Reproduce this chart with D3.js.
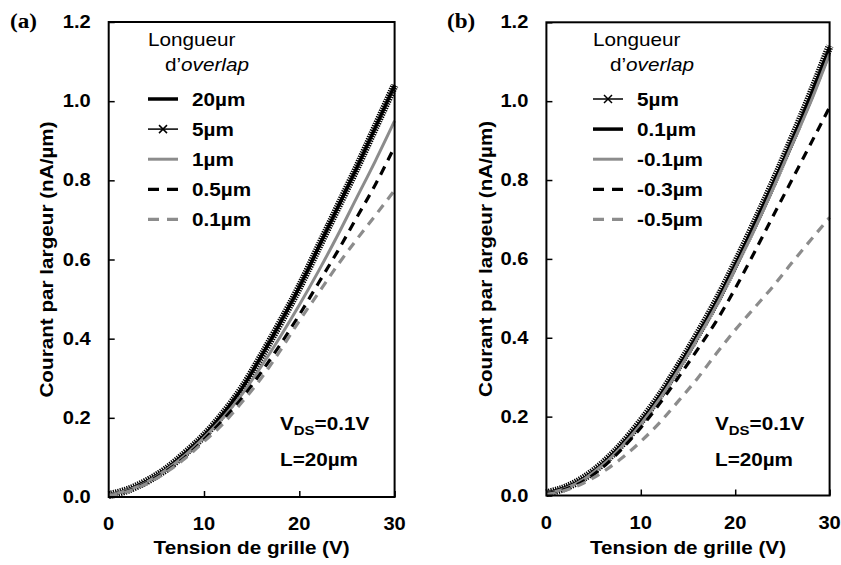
<!DOCTYPE html>
<html><head><meta charset="utf-8">
<script src="https://cdn.jsdelivr.net/npm/d3@7"></script>
<style>
body{margin:0;background:#fff;}
svg{display:block;font-family:"Liberation Sans",Arial,sans-serif;}
</style></head>
<body>
<svg id="chart" width="841" height="565"></svg>
<script>
// ---- Data ----
const gateV = [0,2,4,6,8,10,12,14,16,18,20,22,24,26,28,30];
// Panel (a)
const a_20um  = [0.005,0.018,0.040,0.070,0.110,0.155,0.210,0.275,0.355,0.440,0.530,0.630,0.730,0.830,0.935,1.040];
const a_5um   = [0.005,0.018,0.040,0.070,0.110,0.155,0.210,0.275,0.355,0.440,0.530,0.630,0.730,0.830,0.935,1.040];
const a_1um   = [0.005,0.017,0.038,0.068,0.105,0.150,0.200,0.260,0.330,0.405,0.485,0.570,0.660,0.755,0.850,0.950];
const a_05um  = [0.003,0.015,0.036,0.065,0.100,0.145,0.195,0.250,0.315,0.385,0.460,0.540,0.620,0.705,0.790,0.885];
const a_01um  = [0.003,0.014,0.034,0.062,0.097,0.140,0.185,0.240,0.300,0.370,0.445,0.515,0.585,0.650,0.712,0.775];
// Panel (b)
const b_5um   = [0.006,0.020,0.045,0.082,0.130,0.188,0.253,0.328,0.408,0.493,0.588,0.688,0.793,0.903,1.018,1.140];
const b_01um  = [0.006,0.020,0.044,0.081,0.129,0.186,0.251,0.326,0.406,0.490,0.585,0.684,0.789,0.898,1.013,1.135];
const b_m01um = [0.005,0.018,0.042,0.078,0.125,0.181,0.245,0.318,0.398,0.481,0.575,0.673,0.778,0.888,0.998,1.120];
const b_m03um = [0.004,0.016,0.037,0.072,0.118,0.172,0.233,0.300,0.370,0.442,0.525,0.615,0.708,0.800,0.892,0.985];
const b_m05um = [0.003,0.013,0.032,0.060,0.095,0.137,0.185,0.240,0.297,0.360,0.420,0.475,0.530,0.590,0.648,0.705];

const xTickVals = [0,10,20,30];
const yTickVals = [0,0.2,0.4,0.6,0.8,1.0,1.2];
const legendTitle1 = "Longueur";
const legendTitle2a = "d\u2019";
const legendTitle2b = "overlap";
const xTitle = "Tension de grille (V)";
const yTitle = "Courant par largeur (nA/\u00b5m)";

const panels = [
  { tag:"(a)", left:108.7, right:394.6, top:22, bottom:497, tagX:10, yTitleX:53, legX:148,
    series:[
      {label:"20\u00b5m",  vals:a_20um, style:"black"},
      {label:"5\u00b5m",   vals:a_5um,  style:"hatch"},
      {label:"1\u00b5m",   vals:a_1um,  style:"gray"},
      {label:"0.5\u00b5m", vals:a_05um, style:"blackdash"},
      {label:"0.1\u00b5m", vals:a_01um, style:"graydash"}
    ], annX:280 },
  { tag:"(b)", left:546.4, right:829.6, top:22.3, bottom:495.5, tagX:447, yTitleX:492, legX:593,
    series:[
      {label:"5\u00b5m",    vals:b_5um,   style:"hatch"},
      {label:"0.1\u00b5m",  vals:b_01um,  style:"black"},
      {label:"-0.1\u00b5m", vals:b_m01um, style:"gray"},
      {label:"-0.3\u00b5m", vals:b_m03um, style:"blackdash"},
      {label:"-0.5\u00b5m", vals:b_m05um, style:"graydash"}
    ], annX:715 }
];

const GRAY = "#8c8c8c";
const SX = 1.15; // horizontal stretch of the reference lettering
const svg = d3.select("#chart");

function stext(g, x, y, str, o={}){
  const t = g.append("text")
    .attr("transform",`translate(${x},${y})${o.rotate?` rotate(${o.rotate})`:""} scale(${o.sx||SX},1)`)
    .attr("font-size",o.size||18)
    .attr("font-weight",o.bold===false?"normal":"bold")
    .attr("text-anchor",o.anchor||"start")
    .attr("fill","#000");
  if(str!==null) t.text(str);
  return t;
}

function applyStyle(sel, style){
  if(style==="black") sel.attr("stroke","#000").attr("stroke-width",3.5);
  if(style==="gray") sel.attr("stroke",GRAY).attr("stroke-width",3);
  if(style==="blackdash") sel.attr("stroke","#000").attr("stroke-width",3.2).attr("stroke-dasharray","9,7");
  if(style==="graydash") sel.attr("stroke",GRAY).attr("stroke-width",3.2).attr("stroke-dasharray","9,7");
}

panels.forEach(p=>{
  const g = svg.append("g");
  const x = d3.scaleLinear().domain([0,30]).range([p.left,p.right]);
  const y = d3.scaleLinear().domain([0,1.2]).range([p.bottom,p.top]);

  // tick marks (inward)
  const ya = g.append("g").attr("transform",`translate(${p.left},0)`)
    .call(d3.axisLeft(y).tickValues(yTickVals).tickFormat("").tickSizeInner(-6).tickSizeOuter(0));
  ya.select(".domain").remove();
  ya.selectAll("line").attr("stroke","#000").attr("stroke-width",1.5);
  const xa = g.append("g").attr("transform",`translate(0,${p.bottom})`)
    .call(d3.axisBottom(x).tickValues(xTickVals).tickFormat("").tickSizeInner(-6).tickSizeOuter(0));
  xa.select(".domain").remove();
  xa.selectAll("line").attr("stroke","#000").attr("stroke-width",1.5);

  // tick labels
  const fy = d3.format(".1f");
  yTickVals.forEach(v=>stext(g, p.left-18, y(v)+6, fy(v), {anchor:"end", size:17.5}));
  xTickVals.forEach(v=>stext(g, x(v), p.bottom+33, String(v), {anchor:"middle", size:17.5}));

  // curves
  const line = d3.line().x((d,i)=>x(gateV[i])).y(d=>y(d)).curve(d3.curveMonotoneX);
  const cg = g.append("g");
  p.series.forEach(s=>{
    if(s.style==="hatch"){
      cg.append("path").attr("d",line(s.vals)).attr("fill","none").attr("stroke","#000")
        .attr("stroke-width",8).attr("stroke-dasharray","1.3,1.1");
      cg.append("path").attr("d",line(s.vals)).attr("fill","none").attr("stroke","#000")
        .attr("stroke-width",2);
    } else {
      const path = cg.append("path").attr("d",line(s.vals)).attr("fill","none");
      applyStyle(path, s.style);
    }
  });

  // frame
  g.append("rect").attr("x",p.left).attr("y",p.top).attr("width",p.right-p.left).attr("height",p.bottom-p.top)
    .attr("fill","none").attr("stroke","#000").attr("stroke-width",2);

  // panel tag
  stext(g, p.tagX, 28, p.tag, {size:21, sx:1.1}).style("font-family","'Liberation Serif','Times New Roman',serif");

  // axis titles
  stext(g, (p.left+p.right)/2, 554, xTitle, {anchor:"middle", size:18});
  stext(g, p.yTitleX, (p.top+p.bottom)/2, yTitle, {anchor:"middle", size:18, rotate:-90});

  // legend
  const lx = p.legX;
  stext(g, lx, 46, legendTitle1, {bold:false, size:18});
  const t2 = stext(g, lx+17, 71, null, {bold:false, size:18});
  t2.append("tspan").text(legendTitle2a);
  t2.append("tspan").attr("font-style","italic").text(legendTitle2b);
  p.series.forEach((s,i)=>{
    const cy = 99 + i*30.1;
    if(s.style==="hatch"){
      g.append("line").attr("x1",lx).attr("x2",lx+30).attr("y1",cy).attr("y2",cy).attr("stroke","#000").attr("stroke-width",1.5);
      const mx = lx+15, r=4;
      g.append("path").attr("d",`M${mx-r},${cy-r}L${mx+r},${cy+r}M${mx-r},${cy+r}L${mx+r},${cy-r}`)
        .attr("stroke","#000").attr("stroke-width",1.5);
    } else {
      const ln = g.append("line").attr("x1",lx).attr("x2",lx+30).attr("y1",cy).attr("y2",cy);
      applyStyle(ln, s.style);
      if(s.style==="blackdash"||s.style==="graydash") ln.attr("stroke-dasharray","11,8");
    }
    stext(g, lx+44, cy+6.5, s.label, {size:18});
  });

  // annotations
  const an = stext(g, p.annX, 430, null, {size:18});
  an.append("tspan").text("V");
  an.append("tspan").attr("font-size",13).attr("dy",5).text("DS");
  an.append("tspan").attr("dy",-5).text("=0.1V");
  stext(g, p.annX, 466, "L=20\u00b5m", {size:18});
});
</script>
</body></html>
